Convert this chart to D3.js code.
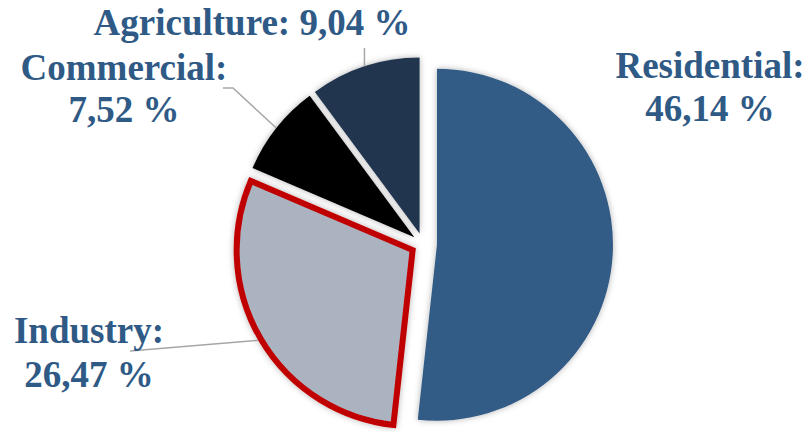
<!DOCTYPE html>
<html>
<head>
<meta charset="utf-8">
<script src="https://cdn.jsdelivr.net/npm/d3@7/dist/d3.min.js"></script>
<style>
  body { margin: 0; background: #fff; }
  svg { display: block; }
  .lbl { font-family: "Liberation Serif", "Times New Roman", serif; font-weight: bold; font-size: 37px; fill: #2F5A86; }
</style>
</head>
<body>
<svg id="chart"></svg>
<script>
const categories = ["Residential", "Industry", "Commercial", "Agriculture"];
const shares = [46.14, 26.47, 7.52, 9.04];
const labelText = ["46,14 %", "26,47 %", "7,52 %", "9,04 %"];

const width = 812, height = 432;
const cx = 423, cy = 244, radius = 176;

const colors = {
  Residential: "#335C85",
  Industry: "#ACB3C0",
  Commercial: "#000000",
  Agriculture: "#22364F"
};
const explode = { Residential: 14, Industry: 12, Commercial: 11, Agriculture: 11 };

// label layout relative to pie center: anchor point and leader path
const labelLayout = {
  Residential: { x: 287, lines: [-166, -123], split: true },
  Industry: { x: -334, lines: [99, 143], split: true, leader: [[-293, 107]] },
  Commercial: { x: -299, lines: [-164, -122], split: true, leader: [[-190, -156], [-200, -156]] },
  Agriculture: { x: -171, lines: [-209], split: false, leader: "vertical", top: -196 }
};

const data = categories.map((c, i) => ({ name: c, value: shares[i], text: labelText[i] }));

const svg = d3.select("#chart").attr("width", width).attr("height", height);

const defs = svg.append("defs");
const f = defs.append("filter").attr("id", "shadow")
  .attr("x", "-20%").attr("y", "-20%").attr("width", "140%").attr("height", "140%");
f.append("feDropShadow").attr("dx", 0).attr("dy", 0).attr("stdDeviation", 3)
  .attr("flood-color", "#000").attr("flood-opacity", 0.3);

const pie = d3.pie().sort(null).value(d => d.value).startAngle(0).endAngle(2 * Math.PI);
const arcs = pie(data);
const arc = d3.arc().innerRadius(0).outerRadius(radius);

function offset(d) {
  const mid = (d.startAngle + d.endAngle) / 2;
  const e = explode[d.data.name];
  return [Math.sin(mid) * e, -Math.cos(mid) * e];
}

const g = svg.append("g").attr("transform", `translate(${cx},${cy})`);

g.selectAll("path.slice")
  .data(arcs)
  .join("path")
  .attr("class", "slice")
  .attr("transform", d => `translate(${offset(d)})`)
  .attr("d", arc)
  .attr("fill", d => colors[d.data.name])
  .attr("stroke", d => d.data.name === "Industry" ? "#C00000" : "none")
  .attr("stroke-width", 6)
  .attr("stroke-linejoin", "miter")
  .attr("filter", "url(#shadow)");

// leader lines
const leaders = g.append("g")
  .attr("fill", "none")
  .attr("stroke", "#A6A6A6")
  .attr("stroke-width", 1.5);

arcs.forEach(d => {
  const lay = labelLayout[d.data.name];
  if (!lay.leader) return;
  const mid = (d.startAngle + d.endAngle) / 2;
  const [ox, oy] = offset(d);
  const r = d.data.name === "Industry" ? radius + 3 : radius;
  const start = [ox + Math.sin(mid) * r, oy - Math.cos(mid) * r];
  let pts;
  if (lay.leader === "vertical") pts = [start, [start[0], lay.top]];
  else pts = [start, ...lay.leader];
  leaders.append("path").attr("d", d3.line()(pts));
});

// labels
arcs.forEach(d => {
  const lay = labelLayout[d.data.name];
  const t = g.append("text").attr("class", "lbl").attr("text-anchor", "middle");
  if (lay.split) {
    t.append("tspan").attr("x", lay.x).attr("y", lay.lines[0]).text(d.data.name + ":");
    t.append("tspan").attr("x", lay.x).attr("y", lay.lines[1]).text(d.data.text);
  } else {
    t.append("tspan").attr("x", lay.x).attr("y", lay.lines[0]).text(d.data.name + ": " + d.data.text);
  }
});
</script>
</body>
</html>
